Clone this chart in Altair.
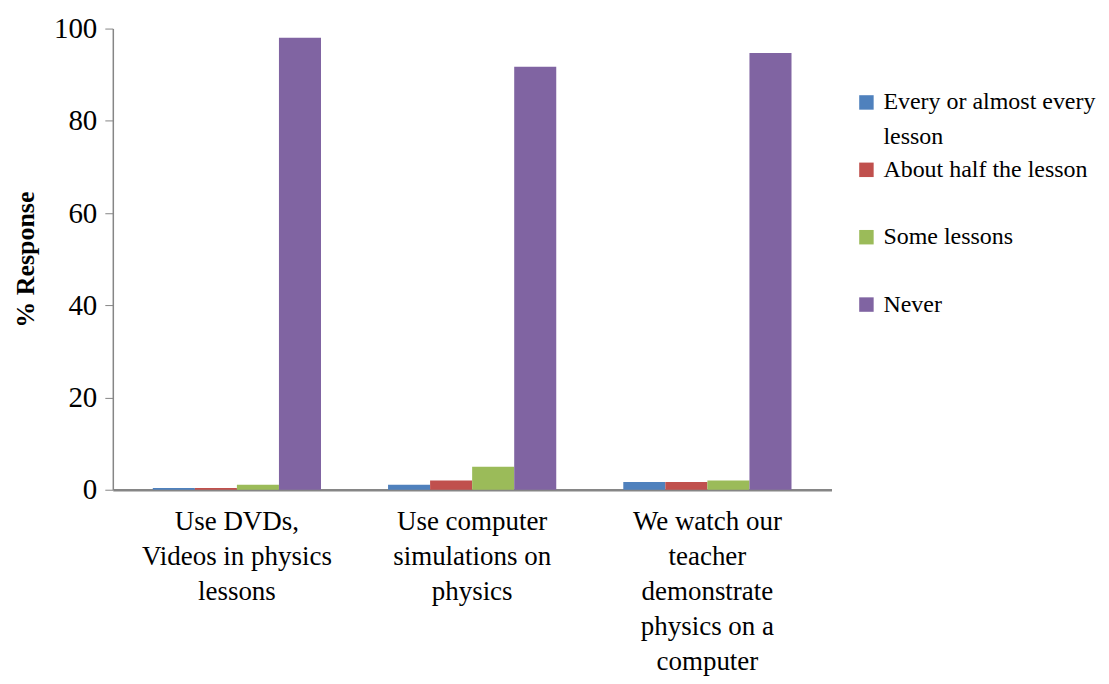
import altair as alt
import pandas as pd

categories = ["Use DVDs,|Videos in physics|lessons",
              "Use computer|simulations on|physics",
              "We watch our|teacher|demonstrate|physics on a|computer"]
series = ["Every or almost every lesson", "About half the lesson", "Some lessons", "Never"]
values = {
    "Every or almost every lesson": [0.4, 1.1, 1.7],
    "About half the lesson": [0.4, 2.0, 1.7],
    "Some lessons": [1.1, 5.0, 2.0],
    "Never": [98.0, 91.7, 94.7],
}
colors = ["#4F81BD", "#C0504D", "#9BBB59", "#8064A2"]
wrap_line = ["lesson"]

rows = []
for s in series:
    for c, v in zip(categories, values[s]):
        rows.append({"cat": c, "series": s, "value": v})
df = pd.DataFrame(rows)

FONT = "Liberation Serif"

legend_common = dict(title=None, orient="none", symbolType="square", symbolSize=210,
                     symbolStrokeWidth=0, labelFont=FONT, labelFontSize=24,
                     labelColor="black", labelLimit=300, symbolOffset=0, labelOffset=5)

bars = alt.Chart(df).mark_bar().encode(
    x=alt.X("cat:N", sort=categories, title=None,
            scale=alt.Scale(paddingInner=0.285, paddingOuter=0.17),
            axis=alt.Axis(labelExpr="split(datum.label, '|')", labelAngle=0,
                          labelFont=FONT, labelFontSize=27, labelColor="black",
                          labelLineHeight=35, labelPadding=19, ticks=False, labelLimit=400,
                          domainColor="#868686", domainWidth=2.5)),
    xOffset=alt.XOffset("series:N", sort=series, scale=alt.Scale(paddingInner=0, paddingOuter=0)),
    y=alt.Y("value:Q", title="% Response",
            scale=alt.Scale(domain=[0, 100]),
            axis=alt.Axis(values=[0, 20, 40, 60, 80, 100], grid=False,
                          labelFont=FONT, labelFontSize=29, labelColor="black",
                          labelPadding=8, tickSize=8, tickColor="#868686",
                          domainColor="#868686", domainWidth=1.5,
                          titleFont=FONT, titleFontSize=26, titleFontWeight="bold",
                          titleColor="black", titlePadding=15)),
    color=alt.Color("series:N", sort=series,
                    scale=alt.Scale(domain=series, range=colors),
                    legend=alt.Legend(legendX=743, legendY=62, rowPadding=43.5,
                                      labelExpr="datum.label == 'Every or almost every lesson' ? 'Every or almost every' : datum.label",
                                      **legend_common)),
)

wrap = alt.Chart(pd.DataFrame({"w": wrap_line})).mark_point(opacity=0).encode(
    shape=alt.Shape("w:N", scale=alt.Scale(range=["square"]),
                    legend=alt.Legend(legendX=743, legendY=97, symbolOpacity=0, **legend_common)),
)

chart = alt.layer(bars, wrap).properties(
    width=720, height=462,
    background="white",
    autosize=alt.AutoSizeParams(type="none"),
    padding={"left": 105, "top": 20, "right": 270, "bottom": 190},
).configure(font=FONT).configure_view(stroke=None)

chart.save("out.html", embed_options={"renderer": "svg", "actions": False})
